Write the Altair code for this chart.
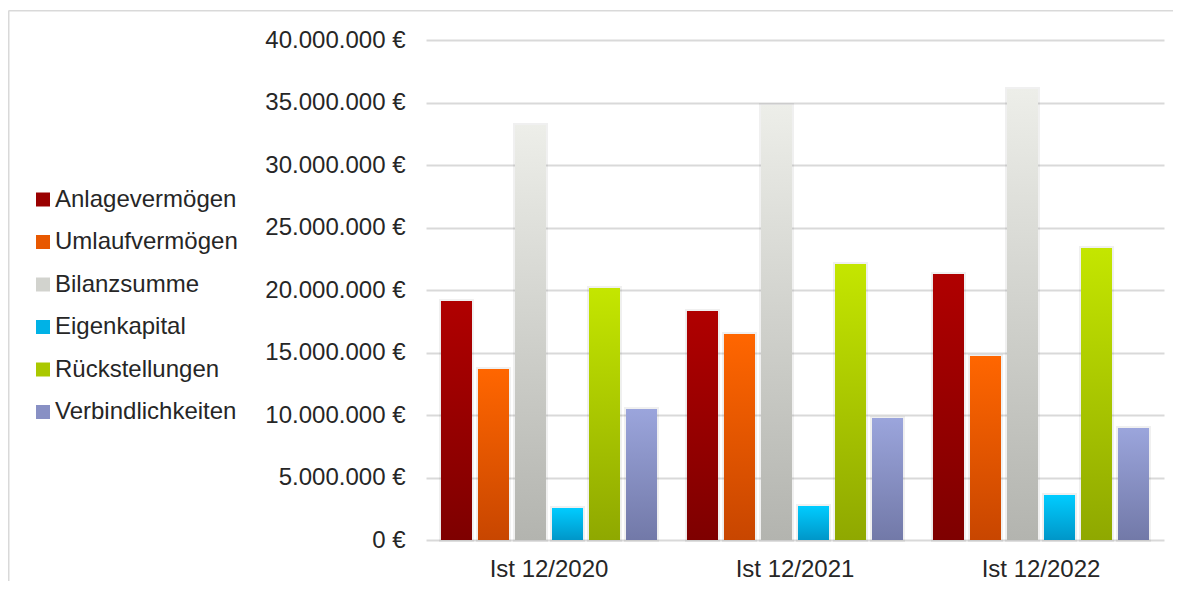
import altair as alt
import pandas as pd

groups = ["Ist 12/2020", "Ist 12/2021", "Ist 12/2022"]
series = ["Anlagevermögen", "Umlaufvermögen", "Bilanzsumme", "Eigenkapital", "Rückstellungen", "Verbindlichkeiten"]
anlage = [19120000, 18320000, 21280000]
umlauf = [13680000, 16480000, 14720000]
bilanz = [33200000, 34800000, 36080000]
eigen = [2560000, 2720000, 3600000]
rueck = [20160000, 22080000, 23360000]
verb = [10480000, 9760000, 8960000]
y_ticks = [0, 5000000, 10000000, 15000000, 20000000, 25000000, 30000000, 35000000, 40000000]

top_colors = ["#b00000", "#ff6600", "#edeee9", "#00ccff", "#c4e600", "#9ba5dc"]
bottom_colors = ["#7e0000", "#c84600", "#b3b4af", "#0096c8", "#8fa800", "#7279a8"]
mid_colors = ["#9a0000", "#e85800", "#d2d3ce", "#00b2e6", "#aac800", "#8890c4"]

all_values = [anlage, umlauf, bilanz, eigen, rueck, verb]
rows = []
for s, vals in zip(series, all_values):
    for g, v in zip(groups, vals):
        rows.append({"group": g, "series": s, "value": v})
df = pd.DataFrame(rows)

FONT = "Liberation Sans"
TXT = "#262626"
GRID = "#d9d9d9"
FS = 24

x_enc = alt.X("group:N", sort=groups, title=None,
              scale=alt.Scale(paddingInner=0, paddingOuter=0),
              axis=alt.Axis(labelAngle=0, ticks=False, domain=False, labelPadding=17,
                            labelFontSize=FS, labelFont=FONT, labelColor=TXT))
xo_enc = alt.XOffset("series:N", sort=series,
                     scale=alt.Scale(domain=series, paddingInner=0.162, paddingOuter=0.405))
y_enc = alt.Y("value:Q", title=None,
              scale=alt.Scale(domain=[0, 40000000], nice=False),
              axis=alt.Axis(values=y_ticks, ticks=False, domain=False, labelPadding=21,
                            labelFontSize=FS, labelFont=FONT, labelColor=TXT,
                            gridColor=GRID, gridWidth=1.8,
                            labelExpr="join(split(format(datum.value, ','), ','), '.') + ' €'"))

base = alt.Chart(df)

legend_layer = base.mark_bar(stroke="#000000", strokeOpacity=0.06, strokeWidth=4).encode(
    x=x_enc, xOffset=xo_enc, y=y_enc,
    color=alt.Color("series:N", sort=series,
                    scale=alt.Scale(domain=series, range=mid_colors),
                    legend=alt.Legend(title=None, orient="none", legendX=-395, legendY=147.5,
                                      symbolType="square", symbolSize=196,
                                      symbolStrokeWidth=0, symbolOpacity=1,
                                      labelFontSize=FS, labelFont=FONT, labelColor=TXT,
                                      labelOffset=0, rowPadding=18.5, padding=0,
                                      labelLimit=400))
)

layers = [legend_layer]
for s, tc, bc in zip(series, top_colors, bottom_colors):
    grad = alt.Gradient(gradient="linear",
                        stops=[alt.GradientStop(color=tc, offset=0),
                               alt.GradientStop(color=bc, offset=1)],
                        x1=0, x2=0, y1=0, y2=1)
    layers.append(
        base.mark_bar(fill=grad).encode(x=x_enc, xOffset=xo_enc, y=y_enc)
        .transform_filter(alt.datum.series == s)
    )

frame_df = pd.DataFrame({"k": [0]})
frame_left = alt.Chart(frame_df).mark_rule(color=GRID, strokeWidth=1.6).encode(
    x=alt.value(-417.3), y=alt.value(-29.5), y2=alt.value(560))
frame_top = alt.Chart(frame_df).mark_rule(color=GRID, strokeWidth=1.6).encode(
    x=alt.value(-417.3), x2=alt.value(800), y=alt.value(-29.2))
layers += [frame_left, frame_top]

chart = alt.layer(*layers).properties(
    width=738, height=500,
    autosize=alt.AutoSizeParams(type="none"),
    padding={"left": 418, "top": 32, "right": 9, "bottom": 41},
    background="#ffffff",
).configure_view(stroke=None)

chart.save("out.html", embed_options={"renderer": "svg", "actions": False})
